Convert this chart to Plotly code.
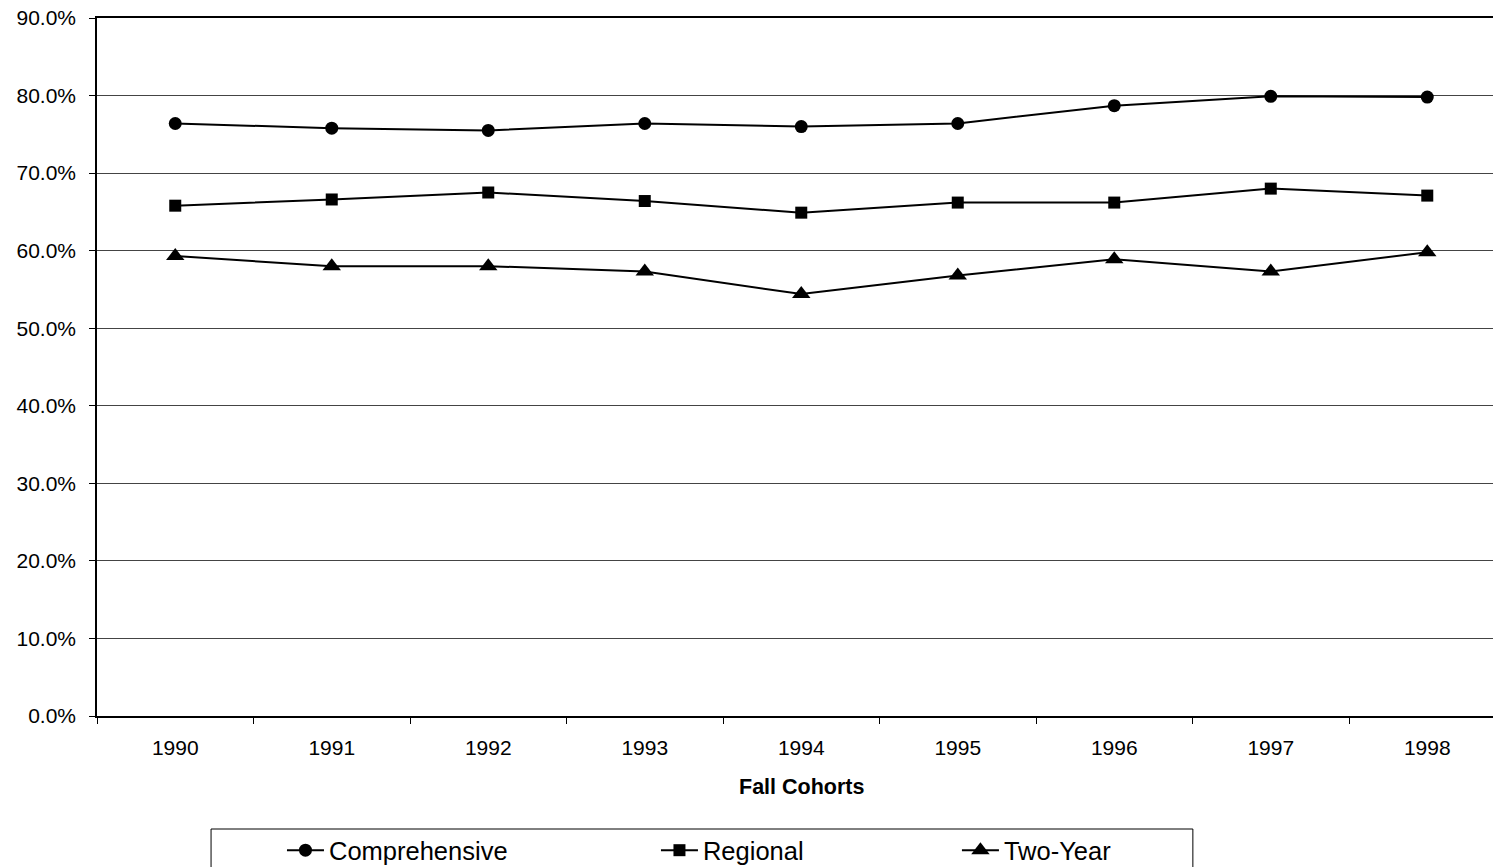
"""Fall cohort retention rates by institution type."""
import plotly.graph_objects as go

years = ["1990", "1991", "1992", "1993", "1994", "1995", "1996", "1997", "1998"]
comprehensive = [76.4, 75.8, 75.5, 76.4, 76.0, 76.4, 78.7, 79.9, 79.8]
regional = [65.8, 66.6, 67.5, 66.4, 64.9, 66.2, 66.2, 68.0, 67.1]
two_year = [59.3, 58.0, 58.0, 57.3, 54.4, 56.8, 58.9, 57.3, 59.8]

FONT = "Arial, Liberation Sans, sans-serif"

series = [
    ("Comprehensive", comprehensive, "circle", 13, "legend", 0.1325),
    ("Regional", regional, "square", 12, "legend2", 0.4004),
    ("Two-Year", two_year, "triangle-up", 16, "legend3", 0.616),
]

fig = go.Figure()
for name, vals, symbol, size, leg, _ in series:
    fig.add_trace(go.Scatter(
        x=years,
        y=vals,
        name=name,
        mode="lines+markers",
        line=dict(color="black", width=2),
        marker=dict(symbol=symbol, size=size, color="black"),
        legend=leg,
    ))

legend_style = dict(
    orientation="h",
    yref="container",
    y=0.046,
    yanchor="top",
    xanchor="left",
    itemwidth=37,
    font=dict(family=FONT, size=25.5, color="black"),
    bgcolor="rgba(0,0,0,0)",
    borderwidth=0,
)
for _, _, _, _, leg, xpos in series:
    fig.update_layout({leg: dict(legend_style, x=xpos)})

fig.update_xaxes(
    type="category",
    range=[-0.5, 8.42],
    showgrid=False,
    showline=True,
    mirror=True,
    linecolor="black",
    linewidth=1.5,
    ticks="outside",
    ticklen=6,
    tickcolor="black",
    tickson="boundaries",
    ticklabelstandoff=12,
    tickfont=dict(family=FONT, size=21, color="black"),
    zeroline=False,
    automargin=False,
)
fig.update_yaxes(
    range=[0, 90],
    dtick=10,
    tickformat=".1f",
    ticksuffix="%",
    showgrid=True,
    gridcolor="#444444",
    gridwidth=1,
    showline=True,
    linecolor="black",
    linewidth=1.5,
    ticks="outside",
    ticklen=6,
    tickcolor="black",
    ticklabelstandoff=9,
    tickfont=dict(family=FONT, size=21, color="black"),
    zeroline=False,
    automargin=False,
)

fig.add_annotation(
    text="<b>Fall Cohorts</b>",
    xref="paper", x=0.5043,
    yref="paper", y=-0.1017,
    xanchor="center",
    yanchor="middle",
    showarrow=False,
    font=dict(family=FONT, size=21.5, color="black"),
)

# legend frame
fig.add_shape(
    type="rect",
    xref="paper", yref="paper",
    x0=0.0817, x1=0.785, y0=-0.1619, y1=-0.24,
    line=dict(color="black", width=1),
)

fig.update_layout(
    width=1493,
    height=867,
    margin=dict(l=97, r=0, t=18, b=151),
    plot_bgcolor="white",
    paper_bgcolor="white",
    showlegend=True,
)

fig.write_html(
    "out.html",
    config={"displayModeBar": False},
    post_script="document.body.style.margin='0';",
)
